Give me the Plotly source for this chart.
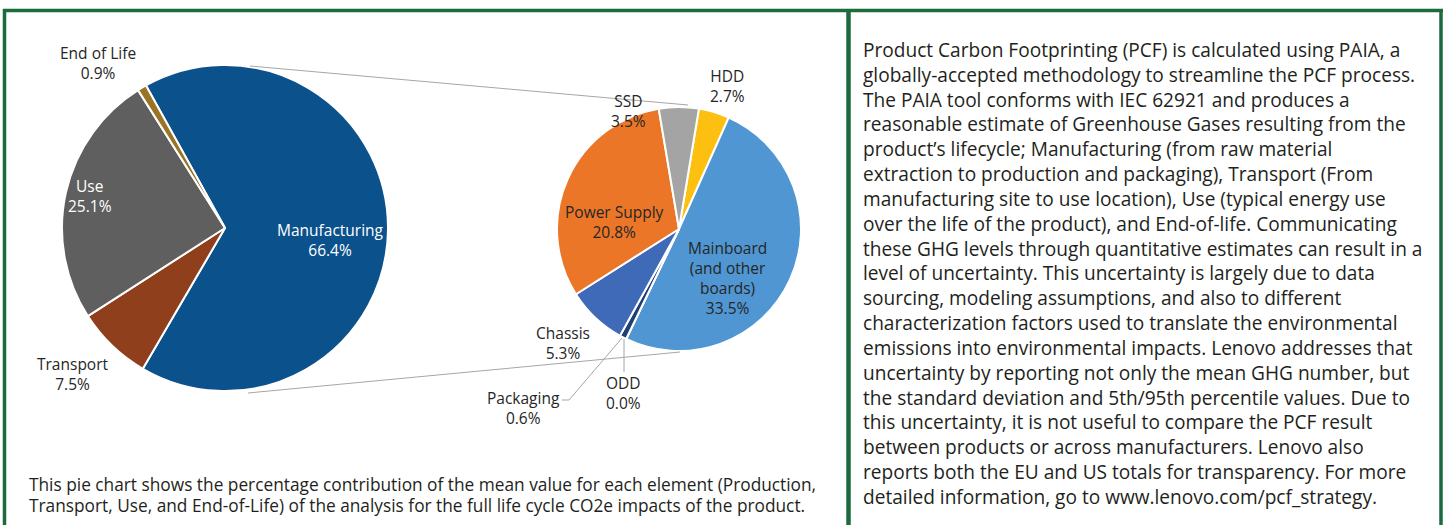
import plotly.graph_objects as go

W, H = 1445, 525

# ---------------- data ----------------
life_stages = ["Manufacturing", "Transport", "Use", "End of Life"]
life_values = [66.4, 7.5, 25.1, 0.9]

parts = ["HDD", "Mainboard (and other boards)", "ODD", "Packaging", "Chassis", "Power Supply", "SSD"]
part_labels = ["HDD", "Mainboard<br>(and other<br>boards)", "ODD", "Packaging", "Chassis", "Power Supply", "SSD"]
part_values = [2.7, 33.5, 0.0, 0.6, 5.3, 20.8, 3.5]

caption_lines = [
    "This pie chart shows the percentage contribution of the mean value for each element (Production,",
    "Transport, Use, and End-of-Life) of the analysis for the full life cycle CO2e impacts of the product.",
]

paragraph_lines = [
    "Product Carbon Footprinting (PCF) is calculated using PAIA, a",
    "globally-accepted methodology to streamline the PCF process.",
    "The PAIA tool conforms with IEC 62921 and produces a",
    "reasonable estimate of Greenhouse Gases resulting from the",
    "product\u2019s lifecycle; Manufacturing (from raw material",
    "extraction to production and packaging), Transport (From",
    "manufacturing site to use location), Use (typical energy use",
    "over the life of the product), and End-of-life. Communicating",
    "these GHG levels through quantitative estimates can result in a",
    "level of uncertainty. This uncertainty is largely due to data",
    "sourcing, modeling assumptions, and also to different",
    "characterization factors used to translate the environmental",
    "emissions into environmental impacts. Lenovo addresses that",
    "uncertainty by reporting not only the mean GHG number, but",
    "the standard deviation and 5th/95th percentile values. Due to",
    "this uncertainty, it is not useful to compare the PCF result",
    "between products or across manufacturers. Lenovo also",
    "reports both the EU and US totals for transparency. For more",
    "detailed information, go to www.lenovo.com/pcf_strategy.",
]

# ---------------- styles / layout ----------------
life_colors = ["#0b518c", "#8f3f1b", "#5f5f5f", "#9a7425"]
part_colors = ["#fdc010", "#4f96d2", "#8e3d10", "#203f73", "#3f6ab8", "#ec7627", "#a4a4a4"]

life_label_pos = [(330, 240, "white"), (73, 374, "#262626"), (90, 196, "white"), (98, 63, "#262626")]
part_label_pos = [(728, 86, "#262626"), (728, 278, "#262626"), (623, 393, "#262626"),
                  (523, 408, "#262626"), (563, 343, "#262626"), (614, 222, "#262626"),
                  (628, 111, "#262626")]

GREEN = "#1b6b3d"
LABEL_FONT = "Open Sans"
TEXT_FONT = "Open Sans"
PARA_SIZE = 19.1            # plotly line spacing = 1.3 * size ~ 24.8 px
PARA_TOP = 50               # centre of first paragraph line (px)


def px(x):
    return x / W


def py(y):
    return 1 - y / H


def dom(cx, cy, r):
    return dict(x=[px(cx - r), px(cx + r)], y=[py(cy + r), py(cy - r)])


fig = go.Figure()

fig.add_trace(go.Pie(
    labels=life_stages, values=life_values, sort=False, direction="clockwise",
    rotation=-29, marker=dict(colors=life_colors, line=dict(color="white", width=2)),
    textinfo="none", hoverinfo="label+value", showlegend=False,
    domain=dom(225, 228, 163),
))

fig.add_trace(go.Pie(
    labels=parts, values=part_values, sort=False, direction="clockwise",
    rotation=9.4, marker=dict(colors=part_colors, line=dict(color="white", width=2)),
    textinfo="none", hoverinfo="label+value", showlegend=False,
    domain=dom(679, 229, 122),
))

annotations = []
for name, val, (x, y, c) in zip(life_stages, life_values, life_label_pos):
    annotations.append(dict(
        x=px(x), y=py(y), xref="paper", yref="paper", showarrow=False,
        text=f"{name}<br>{val:.1f}%", align="center", xanchor="center", yanchor="middle",
        font=dict(family=LABEL_FONT, size=15.5, color=c),
    ))
for lab, val, (x, y, c) in zip(part_labels, part_values, part_label_pos):
    annotations.append(dict(
        x=px(x), y=py(y), xref="paper", yref="paper", showarrow=False,
        text=f"{lab}<br>{val:.1f}%", align="center", xanchor="center", yanchor="middle",
        font=dict(family=LABEL_FONT, size=15.5, color=c),
    ))

for i, line in enumerate(caption_lines):
    annotations.append(dict(
        x=px(27), y=py(484 + 21 * i), xref="paper", yref="paper", showarrow=False,
        text=line, xanchor="left", yanchor="middle",
        font=dict(family=TEXT_FONT, size=17.3, color="#231f20"),
    ))

n_par = len(paragraph_lines)
para_mid = PARA_TOP + 1.3 * PARA_SIZE * (n_par - 1) / 2
annotations.append(dict(
    x=px(861), y=py(para_mid), xref="paper", yref="paper", showarrow=False,
    text="<br>".join(paragraph_lines), align="left", xanchor="left", yanchor="middle",
    font=dict(family=TEXT_FONT, size=PARA_SIZE, color="#231f20"),
))

shapes = []
# green frames
for x0, y0, x1, y1, w in [(4.5, 9, 4.5, 530, 3.5), (3, 10.5, 1443, 10.5, 3.5),
                           (848.5, 9, 848.5, 530, 4.5), (1441, 9, 1441, 530, 3.5)]:
    shapes.append(dict(type="line", xref="paper", yref="paper",
                       x0=px(x0), y0=py(y0), x1=px(x1), y1=py(y1),
                       line=dict(color=GREEN, width=w)))
# connector lines between the pies
for x0, y0, x1, y1 in [(250, 66, 688, 105), (248, 393, 680, 352)]:
    shapes.append(dict(type="line", xref="paper", yref="paper",
                       x0=px(x0), y0=py(y0), x1=px(x1), y1=py(y1),
                       line=dict(color="#a6a6a6", width=1)))
# leader lines for ODD and Packaging
shapes.append(dict(type="path", xref="paper", yref="paper",
                   path=f"M {px(562)} {py(400)} L {px(569)} {py(400)} L {px(622)} {py(338)}",
                   line=dict(color="#a6a6a6", width=1)))
shapes.append(dict(type="line", xref="paper", yref="paper",
                   x0=px(624), y0=py(339), x1=px(624), y1=py(372),
                   line=dict(color="#a6a6a6", width=1)))

fig.update_layout(
    width=W, height=H, margin=dict(l=0, r=0, t=0, b=0),
    paper_bgcolor="white", plot_bgcolor="white",
    annotations=annotations, shapes=shapes,
)

fig.write_html(
    "out.html",
    config={"displayModeBar": False},
    post_script="document.body.style.margin='0px';document.body.style.overflow='hidden';",
)
